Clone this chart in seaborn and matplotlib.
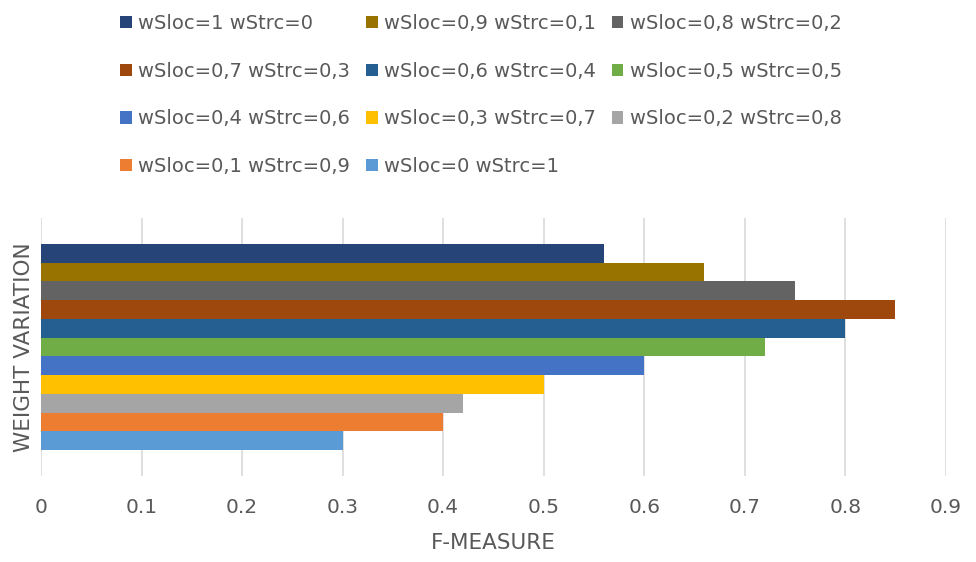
import matplotlib
matplotlib.use("Agg")
import matplotlib.pyplot as plt
import seaborn as sns
import pandas as pd

series = ["wSloc=1 wStrc=0", "wSloc=0,9 wStrc=0,1", "wSloc=0,8 wStrc=0,2",
          "wSloc=0,7 wStrc=0,3", "wSloc=0,6 wStrc=0,4", "wSloc=0,5 wStrc=0,5",
          "wSloc=0,4 wStrc=0,6", "wSloc=0,3 wStrc=0,7", "wSloc=0,2 wStrc=0,8",
          "wSloc=0,1 wStrc=0,9", "wSloc=0 wStrc=1"]
f_measure = [0.56, 0.66, 0.75, 0.85, 0.80, 0.72, 0.60, 0.50, 0.42, 0.40, 0.30]
colors = ["#264478", "#997300", "#636363", "#9E480E", "#255E91", "#70AD47",
          "#4472C4", "#FFC000", "#A5A5A5", "#ED7D31", "#5B9BD5"]
x_ticks = [0, 0.1, 0.2, 0.3, 0.4, 0.5, 0.6, 0.7, 0.8, 0.9]

sns.set_theme(style="white")
plt.rcParams["font.family"] = ["DejaVu Sans"]

df = pd.DataFrame({"group": ["all"] * len(series), "series": series, "value": f_measure})

fig = plt.figure(figsize=(9.76, 5.62), dpi=100)
ax = fig.add_axes([0.042, 0.153, 0.927, 0.459])

sns.barplot(data=df, x="value", y="group", hue="series", hue_order=series,
            palette=colors, orient="h", dodge=True, width=0.8, saturation=1,
            linewidth=0, legend=True, ax=ax)

ax.set_xlim(0, 0.9)
ax.set_ylim(0.5, -0.5)
ax.set_xticks(x_ticks)
ax.set_xticklabels([f"{t:g}" for t in x_ticks])
ax.set_yticks([])
ax.grid(axis="x", color="#d9d9d9", linewidth=1.2)
ax.set_axisbelow(True)
for s in ax.spines.values():
    s.set_visible(False)
ax.tick_params(axis="x", colors="#595959", labelsize=14.5, length=0, pad=16)
ax.set_xlabel("F-MEASURE", fontsize=15.5, color="#595959", labelpad=11)
ax.set_ylabel("WEIGHT VARIATION", fontsize=15.5, color="#595959", labelpad=5)

# legend in row-major order with three columns
handles, labels = ax.get_legend_handles_labels()
ax.get_legend().remove()
ncol = 3
rows = [list(range(i, min(i + ncol, len(handles)))) for i in range(0, len(handles), ncol)]
order = []
for c in range(ncol):
    for r in rows:
        if c < len(r):
            order.append(r[c])
fig.legend([handles[i] for i in order], [labels[i] for i in order],
           loc="upper left", bbox_to_anchor=(0.105, 1.006), ncol=ncol,
           frameon=False, fontsize=14, labelcolor="#595959",
           handlelength=0.6, handleheight=0.6, handletextpad=0.35,
           columnspacing=0.8, labelspacing=1.47)

fig.savefig("out.png", dpi=100)
